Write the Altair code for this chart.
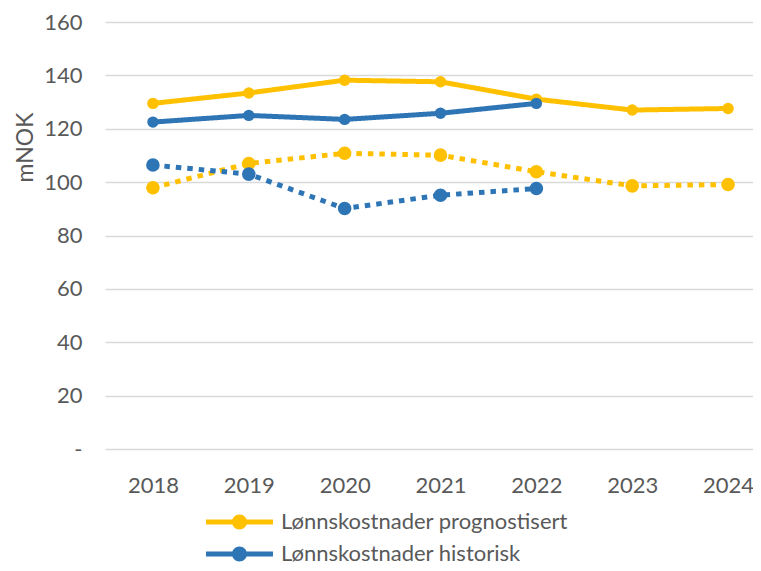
import altair as alt
import pandas as pd

years = [2018, 2019, 2020, 2021, 2022, 2023, 2024]
prog_solid = [129.5, 133.4, 138.2, 137.6, 131.1, 127.0, 127.6]
prog_dotted = [97.9, 107.0, 110.8, 110.1, 103.9, 98.6, 99.1]
hist_years = [2018, 2019, 2020, 2021, 2022]
hist_solid = [122.5, 125.0, 123.5, 125.8, 129.5]
hist_dotted = [106.4, 103.0, 90.1, 95.1, 97.6]

series_names = ["Lønnskostnader prognostisert", "Lønnskostnader historisk"]
colors = ["#FFC000", "#2E75B6"]
line_ids = ["ps", "pd", "hs", "hd"]
line_colors = [colors[0], colors[0], colors[1], colors[1]]

rows = []
for y, v in zip(years, prog_solid):
    rows.append({"year": y, "series": series_names[0], "kind": "solid", "line": "ps", "value": v})
for y, v in zip(years, prog_dotted):
    rows.append({"year": y, "series": series_names[0], "kind": "dotted", "line": "pd", "value": v})
for y, v in zip(hist_years, hist_solid):
    rows.append({"year": y, "series": series_names[1], "kind": "solid", "line": "hs", "value": v})
for y, v in zip(hist_years, hist_dotted):
    rows.append({"year": y, "series": series_names[1], "kind": "dotted", "line": "hd", "value": v})
df = pd.DataFrame(rows)

FONT = "Lato"
TXT = "#595959"

# legend symbol: thick line with a dot in its middle (units of 11 px)
sym_path = ("M-1,-0.227 L5.09,-0.227 L5.09,0.227 L-1,0.227 Z "
            "M1.363,0 A0.682,0.682 0 1,1 2.727,0 A0.682,0.682 0 1,1 1.363,0 Z")

x_enc = alt.X("year:Q",
              scale=alt.Scale(domain=[2017.5, 2024.26], nice=False, zero=False),
              axis=alt.Axis(title=None, domain=False, ticks=False, grid=False,
                            values=years, format="d",
                            labelFont=FONT, labelFontSize=22, labelColor=TXT,
                            labelPadding=26, labelAngle=0))
y_enc = alt.Y("value:Q", scale=alt.Scale(domain=[0, 160], nice=False),
              axis=alt.Axis(title="mNOK", values=list(range(0, 161, 20)),
                            labelExpr="datum.value == 0 ? '-' : datum.label",
                            domain=False, ticks=False, tickSize=0,
                            gridColor="#d9d9d9", gridWidth=1.5,
                            labelFont=FONT, labelFontSize=22, labelColor=TXT,
                            labelPadding=23,
                            titleFont=FONT, titleFontSize=23, titleColor=TXT,
                            titleFontWeight="normal", titleAngle=270,
                            titleX=-80, titleY=125, titleAlign="center",
                            titleBaseline="middle"))
stroke_enc = alt.Stroke("line:N",
                        scale=alt.Scale(domain=line_ids, range=line_colors),
                        legend=None)
color_legend = alt.Color("series:N",
                         scale=alt.Scale(domain=series_names, range=colors),
                         legend=alt.Legend(title=None, orient="none", legendX=101, legendY=489,
                                           direction="vertical", symbolType=sym_path,
                                           symbolSize=484, symbolStrokeWidth=0,
                                           symbolOpacity=1, labelLimit=0,
                                           labelFont=FONT, labelFontSize=22, labelColor=TXT,
                                           labelOffset=53, rowPadding=10))

lines = alt.Chart(df).mark_line(strokeWidth=5, strokeCap="butt").encode(
    x=x_enc, y=y_enc, stroke=stroke_enc,
    strokeDash=alt.StrokeDash("kind:N",
                              scale=alt.Scale(domain=["solid", "dotted"], range=[[1, 0], [5.5, 6]]),
                              legend=None),
)
points = alt.Chart(df).mark_circle(opacity=1).encode(
    x=x_enc, y=y_enc, color=color_legend,
    size=alt.Size("kind:N", scale=alt.Scale(domain=["solid", "dotted"], range=[130, 185]),
                  legend=None),
)

chart = alt.layer(lines, points).properties(
    width=648, height=427,
    padding={"left": 97, "top": 14, "right": 0, "bottom": 114},
    autosize=alt.AutoSizeParams(type="none"),
).configure_view(stroke=None)

chart.save("out.html", embed_options={"renderer": "svg", "actions": False})
